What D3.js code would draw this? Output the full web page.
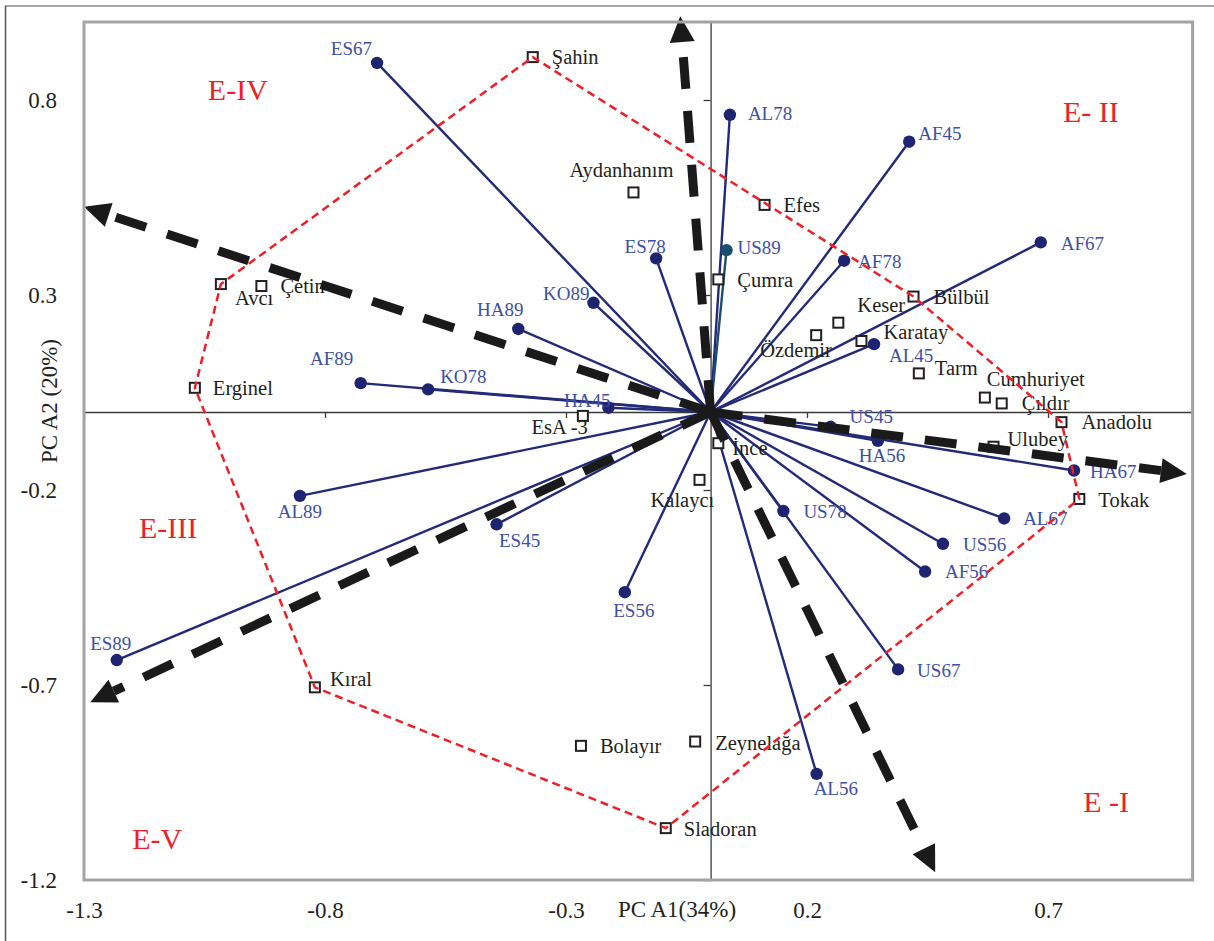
<!DOCTYPE html>
<html>
<head>
<meta charset="utf-8">
<script src="https://cdn.jsdelivr.net/npm/d3@7"></script>
<style>
  html, body { margin: 0; padding: 0; background: #fff; }
  svg { display: block; font-family: "Liberation Serif", "Times New Roman", serif; }
</style>
</head>
<body>
<svg id="chart" width="1214" height="941"></svg>
<script>
// Trait-by-year vectors (PCA loadings on axes 1 and 2)
const genotypeNames = ["ES67","AL78","AF45","AF67","AF78","US89","ES78","KO89","HA89","AF89","KO78","HA45","AL89",
                       "ES45","ES56","ES89","AL45","US45","HA56","HA67","AL67","US56","AF56","US78","US67","AL56"];
const genotypeX = [-0.692, 0.040, 0.412, 0.685, 0.277, 0.033, -0.113, -0.243, -0.399, -0.726, -0.586, -0.212, -0.852,
                   -0.444, -0.178, -1.232, 0.339, 0.249, 0.347, 0.754, 0.609, 0.482, 0.445, 0.151, 0.389, 0.220];
const genotypeY = [0.895, 0.762, 0.693, 0.435, 0.388, 0.415, 0.394, 0.280, 0.213, 0.074, 0.058, 0.011, -0.215,
                   -0.288, -0.462, -0.636, 0.174, -0.038, -0.074, -0.150, -0.273, -0.338, -0.409, -0.254, -0.660, -0.928];

// Cultivar scores
const cultivarNames = ["Şahin","Aydanhanım","Efes","Çumra","Avcı","Çetin","Erginel","Bülbül","Keser","Özdemir",
                       "Karatay","Tarm","Cumhuriyet","Çıldır","Anadolu","Ulubey","Tokak","EsA -3","İnce","Kalaycı",
                       "Kıral","Bolayır","Zeynelağa","Sladoran"];
const cultivarX = [-0.369, -0.160, 0.112, 0.016, -1.016, -0.932, -1.070, 0.421, 0.265, 0.219,
                   0.313, 0.432, 0.569, 0.604, 0.728, 0.587, 0.765, -0.265, 0.016, -0.023,
                   -0.821, -0.269, -0.032, -0.093];
const cultivarY = [0.910, 0.563, 0.531, 0.340, 0.328, 0.323, 0.062, 0.296, 0.229, 0.197,
                   0.182, 0.099, 0.037, 0.022, -0.026, -0.089, -0.223, -0.010, -0.080, -0.174,
                   -0.706, -0.856, -0.845, -1.067];

// Environment direction arrows (tips)
const arrowX = [-0.063, -1.300, -1.287, 0.988, 0.466];
const arrowY = [1.015, 0.526, -0.744, -0.159, -1.180];

// Sector names
const sectorNames = ["E-IV", "E- II", "E-III", "E-V", "E -I"];
const sectorX = [-1.043, 0.731, -1.186, -1.200, 0.773];
const sectorY = [0.800, 0.744, -0.323, -1.121, -1.026];

// Axis ticks
const xTicks = [-1.3, -0.8, -0.3, 0.2, 0.7];
const yTicks = [0.8, 0.3, -0.2, -0.7, -1.2];
const xTitle = "PC A1(34%)";
const yTitle = "PC A2 (20%)";

// ---- label placement (pixel offsets from each mark, baseline) ----
const genotypeLabelPos = {
  ES67: [-5, -8, "end"],  AL78: [18, 5, "start"], AF45: [9, -2, "start"], AF67: [20, 8, "start"],
  AF78: [14, 7, "start"], US89: [11, 4, "start"], ES78: [-11, -5, "middle"], KO89: [-4, -3, "end"],
  HA89: [-18, -13, "middle"], AF89: [-29, -18, "middle"], KO78: [12, -6, "start"], HA45: [2, -1, "end"],
  AL89: [0, 22, "middle"], ES45: [23, 23, "middle"], ES56: [9, 25, "middle"], ES89: [-6, -10, "middle"],
  AL45: [15, 18, "start"], US45: [19, -4, "start"], HA56: [-19, 21, "start"], HA67: [16, 7, "start"],
  AL67: [19, 7, "start"], US56: [20, 7, "start"], AF56: [20, 6, "start"], US78: [20, 7, "start"],
  US67: [19, 8, "start"], AL56: [-3, 21, "start"]
};
const cultivarLabelPos = {
  "Şahin": [19, 7, "start"], "Aydanhanım": [-12, -15, "middle"], "Efes": [19, 7, "start"],
  "Çumra": [19, 8, "start"], "Avcı": [14, 21, "start"], "Çetin": [19, 7, "start"],
  "Erginel": [18, 7, "start"], "Bülbül": [20, 7, "start"], "Keser": [19, -11, "start"],
  "Özdemir": [-56, 22, "start"], "Karatay": [22, -2, "start"], "Tarm": [16, 2, "start"],
  "Cumhuriyet": [2, -12, "start"], "Çıldır": [20, 7, "start"], "Anadolu": [20, 7, "start"],
  "Ulubey": [14, -1, "start"], "Tokak": [19, 8, "start"], "EsA -3": [5, 18, "end"],
  "İnce": [14, 12, "start"], "Kalaycı": [-49, 27, "start"], "Kıral": [15, -1, "start"],
  "Bolayır": [19, 7, "start"], "Zeynelağa": [20, 8, "start"], "Sladoran": [18, 8, "start"]
};

const genotypes = genotypeNames.map((n, i) => ({ name: n, x: genotypeX[i], y: genotypeY[i] }));
const cultivars = cultivarNames.map((n, i) => ({ name: n, x: cultivarX[i], y: cultivarY[i] }));
const arrows = arrowX.map((v, i) => ({ x: v, y: arrowY[i] }));
const sectors = sectorNames.map((n, i) => ({ name: n, x: sectorX[i], y: sectorY[i] }));

const svg = d3.select("#chart");
const plotLeft = 84, plotRight = 1192.6, plotTop = 22, plotBottom = 880;

const x = d3.scaleLinear().domain([-1.3, 1.0]).range([plotLeft, plotRight]);
const y = d3.scaleLinear().domain([-1.2, 1.0]).range([plotBottom, plotTop]);

const navy = "#232a78", dotNavy = "#1f2470", teal = "#1c4f6e";
const labelBlue = "#3d50a6", red = "#ee1f26", ink = "#231f20";

// outer frame (top and left rules)
svg.append("line").attr("x1", 5).attr("x2", 1214).attr("y1", 6).attr("y2", 6)
  .attr("stroke", "#8a8a8a").attr("stroke-width", 1.5);
svg.append("line").attr("x1", 5.5).attr("x2", 5.5).attr("y1", 6).attr("y2", 941)
  .attr("stroke", "#555").attr("stroke-width", 1.5);

// zero axes with ticks
const axisY0 = svg.append("g").attr("transform", `translate(${x(0)},0)`)
  .call(d3.axisLeft(y).tickValues(yTicks).tickSize(7).tickSizeOuter(0).tickFormat(""));
const axisX0 = svg.append("g").attr("transform", `translate(0,${y(0)})`)
  .call(d3.axisBottom(x).tickValues(xTicks).tickSize(6).tickSizeOuter(0).tickFormat(""));
[axisY0, axisX0].forEach(g => {
  g.selectAll("path, line").attr("stroke", "#3a3a3a").attr("stroke-width", 1.3);
});

// tick labels
const yLab = svg.append("g").attr("transform", "translate(57,0)")
  .call(d3.axisLeft(y).tickValues(yTicks).tickSize(0).tickPadding(0).tickFormat(d3.format(".1f")));
const xLab = svg.append("g").attr("transform", "translate(0,902)")
  .call(d3.axisBottom(x).tickValues(xTicks).tickSize(0).tickPadding(0).tickFormat(d3.format(".1f")));
[yLab, xLab].forEach(g => {
  g.select(".domain").remove();
  g.selectAll("text").attr("font-family", "Liberation Serif, serif").attr("font-size", 23)
    .attr("fill", ink).text(function () { return this.textContent.replace("−", "-"); });
});

// axis titles
svg.append("text").attr("x", 677).attr("y", 917).attr("text-anchor", "middle")
  .attr("font-size", 23).attr("fill", ink).text(xTitle);
svg.append("text").attr("transform", "translate(57,401) rotate(-90)").attr("text-anchor", "middle")
  .attr("font-size", 23).attr("fill", ink).text(yTitle);

// genotype vectors
const vec = svg.append("g");
vec.selectAll("line").data(genotypes).join("line")
  .attr("x1", x(0)).attr("y1", y(0))
  .attr("x2", d => x(d.x)).attr("y2", d => y(d.y))
  .attr("stroke", d => d.name === "US89" ? teal : navy).attr("stroke-width", 2.4);
vec.selectAll("circle").data(genotypes).join("circle")
  .attr("cx", d => x(d.x)).attr("cy", d => y(d.y)).attr("r", 6.2)
  .attr("fill", d => d.name === "US89" ? teal : dotNavy);

// cultivar markers
svg.append("g").selectAll("rect").data(cultivars).join("rect")
  .attr("x", d => x(d.x) - 5).attr("y", d => y(d.y) - 5)
  .attr("width", 10).attr("height", 10)
  .attr("fill", "#fff").attr("stroke", ink).attr("stroke-width", 2);

// labels
svg.append("g").selectAll("text").data(genotypes).join("text")
  .attr("x", d => x(d.x) + genotypeLabelPos[d.name][0])
  .attr("y", d => y(d.y) + genotypeLabelPos[d.name][1])
  .attr("text-anchor", d => genotypeLabelPos[d.name][2])
  .attr("font-size", 19).attr("fill", labelBlue).text(d => d.name);
svg.append("g").selectAll("text").data(cultivars).join("text")
  .attr("x", d => x(d.x) + cultivarLabelPos[d.name][0])
  .attr("y", d => y(d.y) + cultivarLabelPos[d.name][1])
  .attr("text-anchor", d => cultivarLabelPos[d.name][2])
  .attr("font-size", 20.5).attr("fill", ink).text(d => d.name);

// environment arrows: thick dashed shafts with solid heads
const ox = x(0), oy = y(0);
const headLen = 26, headHalf = 12.5;
const arr = svg.append("g");
arrows.forEach(a => {
  const tx = x(a.x), ty = y(a.y);
  const len = Math.hypot(tx - ox, ty - oy);
  const ux = (tx - ox) / len, uy = (ty - oy) / len;
  const bx = tx - ux * headLen, by = ty - uy * headLen;
  arr.append("line").attr("x1", ox).attr("y1", oy).attr("x2", bx).attr("y2", by)
    .attr("stroke", "#1a1a1a").attr("stroke-width", 9).attr("stroke-dasharray", "32,22");
  const nx = -uy, ny = ux;
  arr.append("path")
    .attr("d", `M${tx},${ty}L${bx + nx * headHalf},${by + ny * headHalf}L${bx - nx * headHalf},${by - ny * headHalf}Z`)
    .attr("fill", "#1a1a1a");
});

// convex hull around cultivars
const hull = d3.polygonHull(cultivars.map(d => [x(d.x), y(d.y)]));
svg.append("path").attr("d", "M" + hull.join("L") + "Z")
  .attr("fill", "none").attr("stroke", red).attr("stroke-width", 2.5).attr("stroke-dasharray", "8,5");

// sector names
svg.append("g").selectAll("text").data(sectors).join("text")
  .attr("x", d => x(d.x)).attr("y", d => y(d.y))
  .attr("font-size", 30).attr("fill", red).text(d => d.name);

// plot frame
svg.append("rect").attr("x", plotLeft).attr("y", plotTop).attr("width", plotRight - plotLeft).attr("height", plotBottom - plotTop)
  .attr("fill", "none").attr("stroke", "#a3a3a3").attr("stroke-width", 3);
</script>
</body>
</html>
